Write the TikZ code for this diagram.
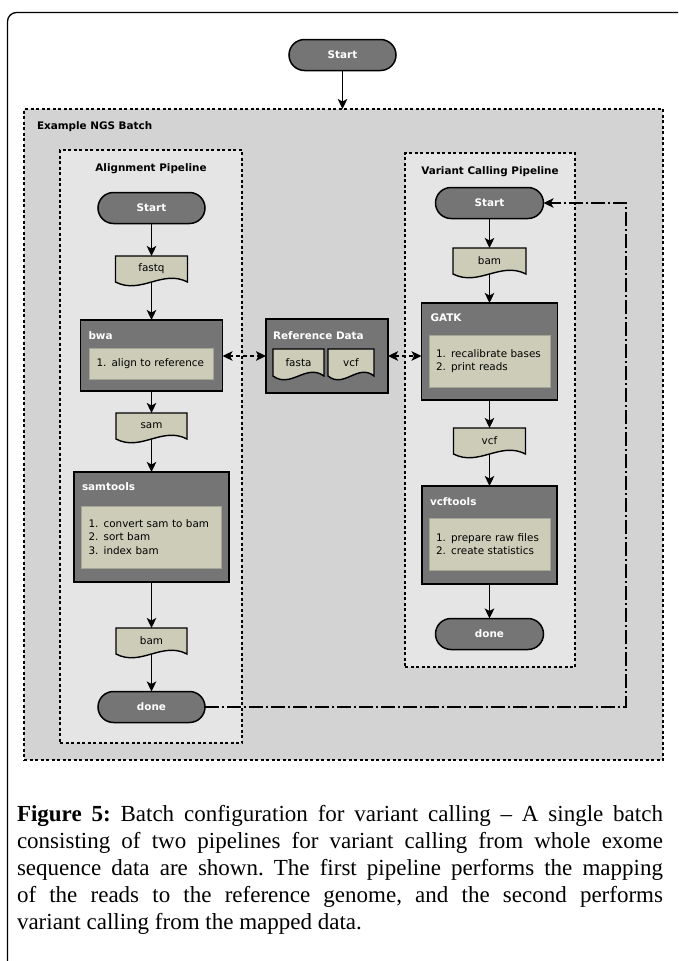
\documentclass[tikz,border=0pt]{standalone}
\usepackage{fontspec}
\setmainfont{Liberation Serif}
\newfontfamily\dvs{DejaVu Sans}
\usetikzlibrary{arrows.meta,calc}
\definecolor{darkbox}{RGB}{117,117,117}
\definecolor{khaki}{RGB}{204,204,185}
\definecolor{khakiedge}{RGB}{165,165,150}
\definecolor{batchbg}{RGB}{212,211,211}
\definecolor{pipebg}{RGB}{229,229,229}
\pgfdeclarelayer{bg}
\pgfdeclarelayer{mid}
\pgfsetlayers{bg,mid,main}
\newcommand\drawdoc[1]{%
  \begin{pgfonlayer}{mid}
  \draw[docline] (#1.north west) -- (#1.south west)
     .. controls ($(#1.south west)!0.35!(#1.south east)+(0,13)$) and ($(#1.south west)!0.65!(#1.south east)+(0,-13)$) .. (#1.south east)
     -- (#1.north east) -- cycle;
  \end{pgfonlayer}}
\begin{document}
\begin{tikzpicture}[x=1pt,y=-1pt,
  every node/.style={inner sep=0pt, outer sep=0pt},
  boldlbl/.style={font=\dvs\bfseries\fontsize{10.4}{12}\selectfont},
  whitelbl/.style={boldlbl, text=white, anchor=west},
  term/.style={draw=black, line width=1.5pt, fill=darkbox, rounded corners=15.5pt,
    minimum width=107pt, minimum height=31pt, boldlbl, text=white},
  procbox/.style={draw=black, line width=1.4pt, fill=darkbox},
  innerbox/.style={draw=khakiedge, line width=1pt, fill=khaki, inner xsep=7pt,
    align=left, font=\dvs\fontsize{10.4}{13.5}\selectfont},
  docnode/.style={minimum height=26pt, font=\dvs\fontsize{10.4}{12}\selectfont},
  docline/.style={draw=black, line width=1.4pt, fill=khaki},
  groupbox/.style={draw=black, line width=1.4pt, dash pattern=on 3pt off 2.5pt},
  flow/.style={draw=black, line width=1.6pt, -{Stealth[length=10pt,width=9.5pt,inset=2.5pt]}},
  dataflow/.style={flow, dash pattern=on 4pt off 3pt, {Stealth[length=10pt,width=9.5pt,inset=2.5pt]}-{Stealth[length=10pt,width=9.5pt,inset=2.5pt]}},
  feedback/.style={flow, dash pattern=on 14pt off 3pt on 2pt off 3pt}
]
\clip (0,0) rectangle (678,961);
% outer frame
\draw[line width=1.3pt, rounded corners=9pt] (7.5,990) -- (7.5,12.5) -- (700,12.5);

% groups
\begin{pgfonlayer}{bg}
\node[groupbox, fill=batchbg, minimum width=639pt, minimum height=651pt] (batch) at (343.5,434.5) {};
\node[groupbox, fill=pipebg, minimum width=182pt, minimum height=593pt] (alignpipe) at (151,446.5) {};
\node[groupbox, fill=pipebg, minimum width=170pt, minimum height=514pt] (varpipe) at (490,410) {};
\node[procbox, minimum width=122pt, minimum height=74pt] (ref) at (327,356) {};
\end{pgfonlayer}
\node[boldlbl, anchor=west] (batchlbl) at (37,127) {Example NGS Batch};
\node[boldlbl] (alignlbl) at (151,169) {Alignment Pipeline};
\node[boldlbl] (varlbl) at (490,172) {Variant Calling Pipeline};

% top start
\node[term] (start0) at (342.5,55) {Start};

% alignment pipeline
\node[term] (startA) at (151.5,208) {Start};
\node[docnode, minimum width=72pt] (fastq) at (151.5,269) {fastq};
\drawdoc{fastq}
\node[procbox, minimum width=142pt, minimum height=71pt] (bwa) at (151.5,355.5) {};
\node[whitelbl] (bwalbl) at ($(bwa.north west)+(8,16)$) {bwa};
\node[innerbox, text width=110pt, minimum height=31pt] (bwain) at (151.5,363.5) {1. align to reference};
\node[docnode, minimum width=71pt] (sam) at (151.5,426) {sam};
\drawdoc{sam}
\node[procbox, minimum width=155pt, minimum height=110pt] (samtools) at (151.5,527) {};
\node[whitelbl] (samtoolslbl) at ($(samtools.north west)+(8,15)$) {samtools};
\node[innerbox, text width=126pt, minimum height=62pt] (samtoolsin) at (151.5,537) {1. convert sam to bam\\2. sort bam\\3. index bam};
\node[docnode, minimum width=71pt] (bamA) at (151.5,641) {bam};
\drawdoc{bamA}
\node[term] (doneA) at (151.5,707) {done};

% reference data
\node[whitelbl] (reflbl) at ($(ref.north west)+(7,17)$) {Reference Data};
\node[docnode, minimum width=51pt, minimum height=27pt] (fasta) at (298.5,362.5) {fasta};
\drawdoc{fasta}
\node[docnode, minimum width=46pt, minimum height=27pt] (vcfref) at (351,362.5) {vcf};
\drawdoc{vcfref}

% variant calling pipeline
\node[term, minimum width=108pt] (startV) at (489.5,203) {Start};
\node[docnode, minimum width=73pt] (bamV) at (489.5,261) {bam};
\drawdoc{bamV}
\node[procbox, minimum width=136pt, minimum height=97pt] (gatk) at (489.5,351.5) {};
\node[whitelbl] (gatklbl) at ($(gatk.north west)+(9,15)$) {GATK};
\node[innerbox, text width=107pt, minimum height=52pt] (gatkin) at (489.5,361) {1. recalibrate bases\\2. print reads};
\node[docnode, minimum width=72pt] (vcfV) at (489.5,441) {vcf};
\drawdoc{vcfV}
\node[procbox, minimum width=135pt, minimum height=98pt] (vcftools) at (489.5,535) {};
\node[whitelbl] (vcftoolslbl) at ($(vcftools.north west)+(8,16)$) {vcftools};
\node[innerbox, text width=107pt, minimum height=52pt] (vcftoolsin) at (489.5,544) {1. prepare raw files\\2. create statistics};
\node[term, minimum width=108pt] (doneV) at (489.5,634) {done};

% flows
\draw[flow] (start0.south) -- (start0.south |- batch.north);
\draw[flow] (startA) -- (fastq);
\draw[flow] (fastq.south) -- (bwa.north);
\draw[flow] (bwa) -- (sam);
\draw[flow] (sam.south) -- (samtools.north);
\draw[flow] (samtools) -- (bamA);
\draw[flow] (bamA.south) -- (doneA.north);
\draw[flow] (startV) -- (bamV);
\draw[flow] (bamV.south) -- (gatk.north);
\draw[flow] (gatk) -- (vcfV);
\draw[flow] (vcfV.south) -- (vcftools.north);
\draw[flow] (vcftools) -- (doneV);
\draw[dataflow] (bwa.east |- ref.west) -- (ref.west);
\draw[dataflow] (ref.east) -- (ref.east -| gatk.west);
\coordinate (fbx) at (626,0);
\draw[feedback] (doneA.east) -| (fbx |- startV.east) -- (startV.east);

% caption
\node[anchor=north west, text width=646pt, align=justify,
  font=\fontsize{23}{27}\selectfont] (caption) at (17,805)
  {\frenchspacing\textbf{Figure 5:} Batch configuration for variant calling – A single batch\linebreak
   consisting of two pipelines for variant calling from whole exome\linebreak
   sequence data are shown. The first pipeline performs the mapping\linebreak
   of the reads to the reference genome, and the second performs\linebreak
   variant calling from the mapped data.};
\end{tikzpicture}
\end{document}
